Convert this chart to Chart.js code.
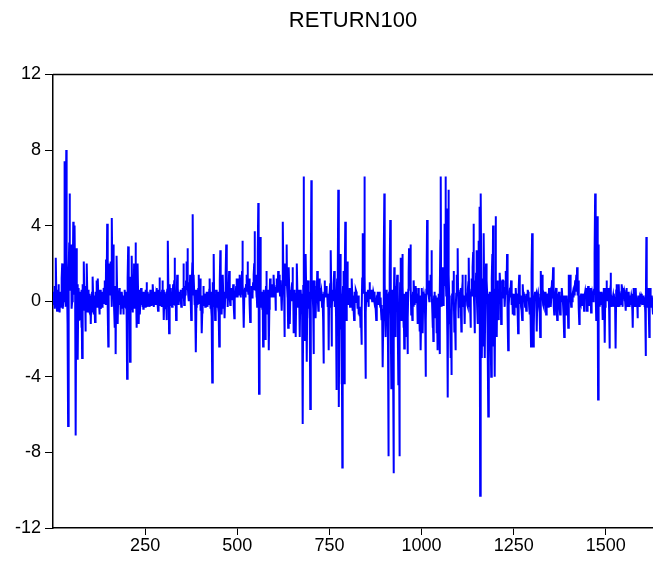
<!DOCTYPE html>
<html><head><meta charset="utf-8">
<script src="https://cdn.jsdelivr.net/npm/chart.js@4"></script>
<style>html,body{margin:0;padding:0;background:#fff}#wrap{width:653px;height:563px}</style>
</head><body><div id="wrap"><canvas id="c" width="653" height="563"></canvas></div>
<script>
const chartTitle = 'RETURN100';
const yTicks = [-12, -8, -4, 0, 4, 8, 12];
const xTicks = [250, 500, 750, 1000, 1250, 1500];
const returns = [
0.5,-0.2,0.3,-0.4,0.8,0.2,1.1,2.3,0.4,-0.3,
-0.5,0.3,-0.2,0.6,0.9,-0.4,0.2,-0.6,0.5,0.1,
0.4,-0.3,0.8,1.2,2.0,0.6,-0.4,0.0,1.1,0.3,
2.6,7.4,1.8,-0.3,3.5,8.0,2.1,0.8,1.5,-1.2,
-6.6,0.4,1.6,3.1,5.7,2.2,0.6,1.9,3.0,1.4,
-0.4,0.0,2.0,1.1,4.2,2.5,0.4,1.6,4.0,0.8,
-2.2,-7.1,0.5,2.8,-0.6,0.9,-3.1,-1.0,0.4,0.7,
-0.2,-1.0,0.5,-0.7,0.3,-0.3,-1.4,0.6,-3.0,-0.5,
0.9,-0.4,1.0,2.1,0.3,-0.5,0.6,-1.6,-0.3,0.8,
0.2,2.0,0.5,-0.6,-0.3,0.6,-0.4,0.2,0.4,-0.5,
0.3,-0.3,-1.2,0.2,-0.6,0.5,0.1,1.3,0.2,-0.4,
-0.7,0.3,-0.5,-1.1,0.1,0.5,-0.2,0.6,1.1,-0.3,
0.4,1.2,0.2,0.6,-0.2,-0.7,0.3,0.1,0.6,-0.4,
-0.2,0.5,-0.3,0.2,0.4,-0.1,0.7,0.2,0.5,1.1,
0.3,0.8,-0.2,2.2,1.0,0.4,4.1,1.2,-0.5,-2.4,
0.6,1.4,2.0,0.5,1.2,0.3,2.1,0.8,-0.3,4.4,
1.5,0.6,2.2,3.0,0.4,-0.5,-1.4,0.3,0.8,-2.8,
0.2,1.0,2.4,0.5,-0.3,-1.2,0.4,-0.2,0.3,0.7,
-0.1,0.4,-0.3,-0.7,0.2,-0.2,0.5,0.1,-0.4,0.3,
-0.7,0.2,-0.3,0.4,0.6,-0.2,0.3,-0.3,0.5,-1.1,
-4.1,0.4,1.2,2.9,0.6,-0.5,0.8,-1.0,-3.2,0.3,
1.3,-0.4,0.9,2.4,0.3,-0.6,0.5,1.4,-0.2,2.0,
0.7,-0.4,0.9,3.1,0.8,-0.3,-1.4,0.4,0.8,2.0,
0.3,-0.5,-1.2,0.2,0.6,-0.7,-0.1,0.3,0.7,-0.2,
0.4,0.1,-0.3,0.5,-0.4,0.2,0.5,-0.1,0.3,-0.3,
0.2,0.6,-0.2,1.0,0.2,0.5,-0.3,0.4,-0.1,0.3,
0.0,0.4,-0.3,0.6,0.2,-0.2,0.4,0.1,0.5,-0.2,
0.9,0.3,0.5,-0.3,0.2,0.4,0.0,0.5,-0.2,0.3,
0.7,0.1,0.4,-0.2,-0.5,0.3,0.6,0.2,1.25,0.4,
-0.2,0.5,0.1,0.4,-0.3,0.6,1.1,0.3,0.6,-0.3,
-1.0,0.2,0.5,-0.2,-0.3,0.4,0.1,-1.0,0.3,0.6,
1.2,3.2,0.8,-0.3,-1.7,0.2,0.9,-0.2,0.7,0.2,
0.4,-0.1,-0.3,0.5,0.2,0.9,-0.2,0.4,1.1,2.3,
0.6,-0.2,0.3,-1.0,0.5,0.2,1.4,0.3,0.7,0.1,
-0.2,0.4,0.0,0.5,0.2,0.6,0.1,-0.3,0.4,0.2,
0.3,0.7,0.2,2.0,0.6,-0.2,0.5,0.0,0.8,0.3,
1.1,2.1,0.6,1.2,2.8,0.9,0.3,0.0,0.6,1.0,
0.2,1.4,0.5,0.1,-1.0,0.4,0.9,2.0,4.6,1.0,
0.3,1.4,0.5,-0.2,0.6,-0.5,0.2,-2.7,-0.3,0.6,
0.2,0.5,-0.2,0.7,1.4,0.4,-0.1,0.6,1.2,0.2,
-0.5,0.3,-0.4,-1.7,-0.6,0.3,-0.2,0.8,0.4,-0.1,
0.2,0.4,-0.3,0.3,0.1,-0.2,0.5,0.1,-0.3,0.4,
0.0,0.5,-0.2,0.6,1.2,0.3,-0.4,0.2,-0.3,0.5,
-0.8,-4.3,0.2,1.0,0.4,2.5,0.6,-0.3,0.4,-1.0,
0.3,-0.2,0.0,0.6,-0.3,0.4,0.1,-0.3,0.5,-0.6,
-2.4,0.3,1.1,2.7,0.5,-0.2,0.3,-0.7,0.4,0.2,
1.4,0.3,-0.4,0.5,0.1,-0.9,0.2,0.8,1.5,3.0,
0.9,0.2,0.6,-0.3,0.4,0.1,0.7,1.6,0.5,0.2,
-0.2,0.4,0.1,0.5,0.7,0.2,0.5,0.3,0.9,0.2,
-0.3,-0.9,0.1,0.5,0.2,0.4,0.8,0.3,1.2,0.5,
0.2,0.7,1.2,0.4,0.8,0.3,1.4,0.6,0.2,0.7,
0.4,1.0,1.6,3.2,0.9,0.1,-0.5,-1.4,0.3,0.5,
0.7,0.2,0.6,0.9,1.4,0.5,1.2,2.1,0.7,0.4,
0.8,1.2,0.3,-0.2,-1.1,0.2,0.5,0.3,0.8,0.2,
0.7,0.4,1.0,0.6,1.4,2.0,3.7,1.1,0.6,1.4,
0.8,0.2,0.5,-0.3,1.2,2.6,5.2,0.8,-4.9,0.6,
1.5,3.4,0.9,0.3,-0.3,0.4,0.5,-0.4,0.3,-2.4,
-0.5,0.6,0.2,0.0,-0.6,-2.0,0.3,0.8,1.6,0.4,
-0.2,-0.7,0.3,0.6,-0.5,-2.6,-0.4,0.5,1.2,0.3,
0.6,0.9,0.2,0.6,0.3,0.4,0.8,0.2,1.4,0.6,
0.3,0.7,0.7,-0.5,0.4,0.8,1.2,0.5,0.9,0.6,
1.6,0.7,0.5,1.4,0.6,0.3,0.8,1.1,0.4,0.2,
-0.5,0.6,1.8,4.2,1.3,0.4,0.6,-1.9,0.5,2.0,
0.8,1.1,1.6,3.0,0.8,0.2,0.5,-1.4,0.4,1.8,
0.6,0.2,-1.2,0.3,0.6,0.3,0.0,0.7,1.0,1.8,
0.5,0.2,-1.7,0.3,0.6,-0.2,0.4,0.1,-1.9,0.4,
0.9,2.0,0.6,0.2,-0.3,0.4,0.6,0.2,0.5,-1.9,
0.3,0.6,0.2,-0.3,0.4,-0.8,0.3,-6.5,0.8,6.6,
1.2,0.3,-2.1,0.4,1.0,2.5,0.5,-0.8,-3.2,0.2,
0.6,1.1,0.3,-0.4,0.5,-0.9,0.2,-5.7,-0.4,1.5,
6.4,0.8,0.3,1.1,0.4,-0.4,-2.8,0.5,1.1,0.3,
0.6,-0.3,-0.9,0.4,0.8,0.2,1.6,0.6,0.1,-0.5,
0.4,0.6,1.2,0.4,0.7,0.0,0.3,0.5,0.2,-0.3,
0.4,0.1,-1.0,-3.3,-0.2,0.5,1.1,0.3,0.6,0.2,
0.5,0.8,0.2,0.4,-0.3,0.3,0.1,-2.6,-0.3,0.5,
0.4,0.9,1.4,2.7,0.5,-2.4,-0.4,0.5,0.0,0.6,
0.3,0.9,1.6,0.4,-0.3,0.6,0.2,-0.8,-4.7,0.3,
1.2,-0.2,1.0,5.9,0.6,-5.6,-0.3,0.8,2.5,-0.5,
-1.5,0.4,-4.4,-1.2,-8.8,0.3,0.8,1.6,0.2,-1.0,
-4.4,0.6,4.2,1.0,0.4,-1.0,0.5,0.8,2.1,0.3,
0.6,-0.2,0.0,0.4,0.7,-0.3,0.3,0.1,-0.3,1.1,
1.2,0.3,-0.5,-0.3,0.2,-0.4,-1.0,0.2,0.5,0.0,
0.3,0.6,0.5,-0.1,0.2,-0.4,-0.3,0.3,-0.2,-0.7,
-0.3,-0.8,-0.4,-1.4,-0.7,-1.1,-2.3,-0.5,1.2,2.5,
3.6,1.0,0.4,2.8,6.6,1.4,-1.5,-4.1,-0.6,0.3,
0.5,0.0,0.4,0.1,0.6,-0.3,0.3,0.6,1.0,0.3,
0.5,0.1,0.2,0.6,0.3,0.0,0.4,0.2,0.5,0.4,
0.1,0.5,-0.1,-0.3,0.2,-0.4,-1.0,0.3,0.1,0.3,
0.5,0.1,0.4,-0.2,0.0,0.5,-0.1,-0.3,0.2,-0.5,
-0.2,-1.0,-0.4,-1.5,-3.5,-1.0,0.8,2.4,5.7,0.9,
-0.5,-1.0,-1.9,0.2,0.6,-0.3,0.4,-0.6,-2.5,-8.2,
-1.0,0.5,-0.2,1.5,4.3,1.0,-1.2,-4.6,-0.5,0.6,
-0.3,-2.0,-4.3,-9.1,-0.8,1.8,0.5,-0.3,-1.9,0.4,
0.8,-0.3,0.6,1.4,0.2,-1.5,-4.4,-1.3,-2.0,-8.2,
-0.5,1.0,2.3,0.5,-1.0,0.4,1.2,2.5,0.8,-0.3,
-1.4,0.2,-2.5,-0.8,0.4,-0.4,0.0,0.5,-0.8,-1.9,
-0.5,-2.8,-0.9,0.6,1.5,2.8,0.8,1.2,1.9,3.0,
0.8,-0.7,0.3,-0.2,-1.0,0.2,0.5,-0.3,1.1,0.4,
-0.2,0.5,0.2,0.8,0.3,0.7,-0.1,0.4,-0.5,-1.2,
-0.3,0.7,0.2,-0.6,-1.6,-0.5,0.3,-2.6,-0.8,0.3,
0.7,-0.3,-1.7,-0.4,0.5,-0.2,0.3,0.1,0.4,-1.2,
-4.0,-1.0,0.6,2.0,4.3,4.2,1.0,0.4,1.1,0.3,
0.0,0.6,0.3,1.4,0.5,1.2,2.7,0.6,-0.4,-1.4,
-0.5,-2.1,-0.6,0.3,0.5,-0.2,0.3,-0.9,-0.2,0.2,
-1.7,-0.4,-2.6,-0.5,0.2,0.4,-0.6,-1.2,-2.8,0.5,
3.2,6.6,1.2,-0.3,0.5,0.9,1.8,0.4,-0.2,0.5,
1.6,4.1,0.8,2.5,6.6,1.5,0.3,4.9,0.6,-1.8,
-5.1,0.5,5.9,1.4,0.3,-1.2,-0.4,-1.5,-3.0,-0.8,
-3.9,-1.0,0.4,1.1,0.2,0.7,1.6,0.3,-1.6,-0.5,
-1.2,-2.6,-0.6,0.4,1.4,0.5,1.2,2.8,0.6,-0.9,
0.2,-0.3,0.0,0.5,0.2,0.7,-0.2,-1.6,0.3,0.6,
1.4,0.4,0.1,-0.3,0.3,-0.4,-1.2,0.2,1.4,0.5,
0.2,0.0,0.4,-0.2,-0.3,0.6,1.0,2.3,0.5,-0.3,
0.3,-0.4,-1.4,0.2,0.6,1.2,0.3,0.7,1.8,2.6,
4.1,0.6,-0.3,-1.7,0.2,1.1,0.4,1.5,2.7,0.6,
-0.4,-1.2,0.5,1.8,3.2,1.0,2.2,5.0,-10.3,0.4,
5.7,1.2,-0.6,-3.0,0.5,-2.4,0.8,1.5,3.6,0.4,
-1.2,-3.0,0.3,1.0,2.0,0.5,1.1,0.4,-0.5,-2.5,
-6.1,-0.5,0.4,-0.2,0.5,-0.3,-1.2,-2.0,-4.0,0.2,
1.2,2.5,0.8,4.0,0.5,-2.4,-0.8,-1.5,-4.0,0.6,
4.5,0.9,-0.4,-1.9,0.2,1.1,0.3,-0.3,-1.0,0.4,
0.6,1.5,1.1,0.2,0.4,-1.2,-0.7,0.5,0.2,1.1,
1.1,0.3,0.7,0.7,0.1,-0.3,0.4,0.8,1.6,0.5,
1.0,2.5,0.4,-0.8,-2.6,0.2,-0.2,0.3,0.5,0.7,
0.2,0.6,1.1,0.3,-0.2,0.4,0.1,-0.7,0.2,0.3,
-0.7,0.2,0.4,-0.3,0.3,0.7,0.1,0.4,-0.2,0.3,
-0.4,-1.7,0.2,0.6,1.4,0.3,0.4,-0.1,0.3,-0.3,
0.2,-0.5,-1.0,0.3,0.9,0.2,0.5,0.0,0.4,0.1,
-0.3,0.3,0.1,-0.5,0.2,0.4,0.1,0.6,0.5,0.0,
0.3,-0.3,0.2,-0.7,-0.2,-1.0,-2.4,0.4,1.5,3.6,
0.6,-0.6,-2.4,-0.5,-1.4,0.2,0.3,0.5,0.1,0.3,
0.4,-0.5,-1.6,0.2,0.3,0.4,0.0,0.3,-0.3,0.2,
-0.6,-1.9,0.4,1.6,0.5,0.8,1.4,0.4,0.2,-0.2,
0.3,-0.3,0.2,0.1,0.5,-0.1,0.3,-0.7,0.2,0.1,
0.4,0.0,0.3,-0.3,0.2,0.7,0.1,0.4,0.5,0.2,
-0.3,0.2,0.6,1.1,0.3,0.8,1.8,0.4,-0.2,-0.7,
0.3,0.4,0.1,0.5,0.7,0.2,-0.3,-1.0,0.2,0.0,
0.4,0.1,0.5,0.2,-0.3,-0.7,0.2,0.3,0.0,0.4,
0.7,0.2,0.3,-0.2,-0.5,-0.8,-1.9,-0.2,0.3,-0.3,
0.2,-0.7,0.1,0.3,-0.3,-0.6,0.1,-1.4,0.2,1.4,
0.5,0.6,1.4,0.4,0.1,-0.3,0.2,0.3,0.0,0.4,
0.5,0.2,0.4,0.5,0.3,0.7,1.1,0.5,0.9,1.4,
0.6,1.8,0.7,0.3,1.1,0.2,-0.4,-1.2,0.2,0.0,
0.3,-0.1,0.4,0.1,0.3,-0.2,0.2,0.4,-0.2,0.1,
-0.5,0.2,0.3,0.5,0.2,0.4,0.7,0.1,-0.5,0.3,
0.2,0.8,0.3,0.1,-0.2,0.4,0.2,0.7,0.3,-0.6,
0.2,0.1,0.4,0.2,0.5,0.0,0.3,0.6,1.4,2.5,
5.7,1.2,0.4,-1.0,0.8,2.0,4.5,0.6,-5.2,3.0,
0.6,0.3,-0.3,0.2,0.5,0.0,0.3,-0.2,0.5,0.2,
-1.0,-0.3,0.4,0.7,0.1,-0.6,-2.2,-0.3,0.7,0.4,
0.2,1.1,0.5,0.3,0.0,0.3,0.7,0.4,-0.5,-2.5,
0.3,0.6,1.5,0.4,0.1,-0.3,0.2,-0.3,0.1,0.3,
0.0,0.4,0.1,-0.3,0.2,-0.8,-2.5,0.3,0.9,0.2,
0.4,-0.3,0.2,0.5,0.9,0.3,-0.3,0.2,0.4,-0.2,
0.3,0.5,0.9,0.2,-0.3,0.1,0.4,0.7,0.2,0.4,
0.0,0.3,-0.2,-0.5,0.3,0.7,0.2,0.4,-0.3,0.1,
0.3,0.5,0.1,0.3,-0.3,0.2,-0.2,0.1,0.3,0.4,
0.1,-0.5,-1.4,0.2,0.7,0.3,0.1,-0.3,0.2,0.4,
0.7,0.2,0.0,-0.3,0.1,-0.9,-0.2,0.3,-0.2,0.1,
0.3,-0.3,0.2,0.4,0.1,0.3,0.4,0.2,0.0,-0.2,
0.1,0.3,-0.2,0.2,-0.3,0.1,-0.6,-2.9,-0.4,3.4,
0.8,-0.3,0.2,0.4,0.7,0.1,-0.5,-1.9,-0.2,0.3,
0.7,0.2,-0.3,0.1,0.3,0.0,-0.4,-0.7
];

const FONT = '"Liberation Sans", Arial, sans-serif';

const topBorder = {
  id: 'topBorder',
  afterDraw(chart) {
    const a = chart.chartArea, c = chart.ctx;
    c.save();
    c.strokeStyle = '#000';
    c.lineWidth = 1.5;
    c.beginPath();
    c.moveTo(a.left, a.top);
    c.lineTo(a.right, a.top);
    c.stroke();
    c.restore();
  }
};

new Chart(document.getElementById('c'), {
  type: 'line',
  data: {
    datasets: [{
      data: returns.map((v, i) => ({ x: i + 1, y: v })),
      borderColor: '#0000ff',
      borderWidth: 2,
      pointRadius: 0,
      tension: 0,
      fill: false
    }]
  },
  options: {
    responsive: false,
    animation: false,
    layout: { padding: 0 },
    plugins: {
      legend: { display: false },
      tooltip: { enabled: false },
      title: {
        display: true,
        text: chartTitle,
        fullSize: false,
        color: '#000',
        font: { family: FONT, size: 22, weight: 'normal' },
        padding: { top: 8, bottom: 40 }
      }
    },
    scales: {
      x: {
        type: 'linear',
        min: 0,
        max: returns.length,
        afterBuildTicks: s => { s.ticks = xTicks.map(v => ({ value: v })); },
        afterFit: s => { s.height = 35; },
        grid: { drawOnChartArea: false, drawTicks: true, tickLength: 7, color: '#000', lineWidth: 1 },
        border: { color: '#000', width: 1.5 },
        ticks: { color: '#000', font: { family: FONT, size: 18 }, padding: 0, maxRotation: 0, autoSkip: false,
                 callback: v => String(v) }
      },
      y: {
        min: -12,
        max: 12,
        afterBuildTicks: s => { s.ticks = yTicks.map(v => ({ value: v })); },
        afterFit: s => { s.width = 53; },
        grid: { drawOnChartArea: false, drawTicks: true, tickLength: 8, color: '#000', lineWidth: 1 },
        border: { color: '#000', width: 1.5 },
        ticks: { color: '#000', font: { family: FONT, size: 18 }, padding: 4, callback: v => String(v) }
      }
    }
  },
  plugins: [topBorder]
});
</script>
</body></html>
